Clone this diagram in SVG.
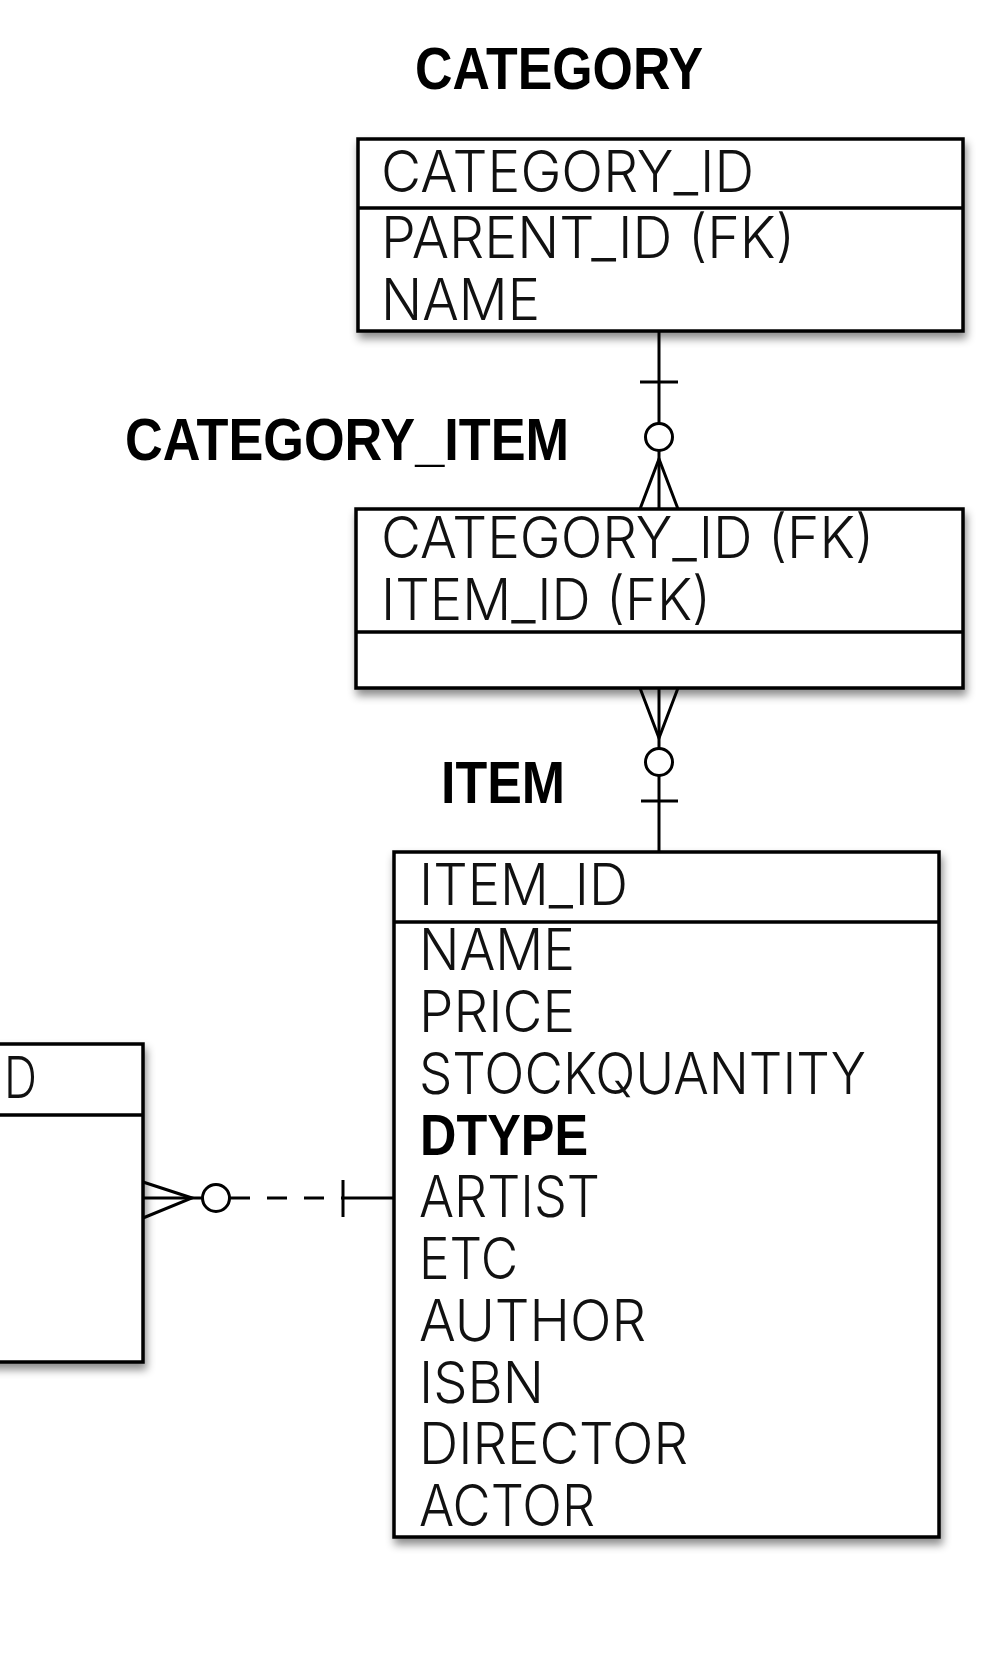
<svg xmlns="http://www.w3.org/2000/svg" width="1000" height="1660" viewBox="0 0 1000 1660">
<defs>
<filter id="sh" x="-10%" y="-10%" width="130%" height="130%">
<feDropShadow dx="2" dy="6" stdDeviation="4" flood-color="#000" flood-opacity="0.45"/>
</filter>
<style>
.box{fill:#fff;stroke:#000;stroke-width:3.5;filter:url(#sh)}
.div{stroke:#000;stroke-width:3.5}
.fld{font-family:"Inter","Liberation Sans",sans-serif;font-weight:300;font-size:57px;fill:#111}
.fldb{font-family:"Liberation Sans",sans-serif;font-weight:bold;font-size:57px;fill:#000}
.ttl{font-family:"Liberation Sans",sans-serif;font-weight:bold;font-size:59px;fill:#000}
.ln{stroke:#000;stroke-width:3;fill:none}
.circ{stroke:#000;stroke-width:3;fill:#fff}
</style>
</defs>
<rect width="1000" height="1660" fill="#fff"/>

<g id="category">
<text class="ttl" x="415" y="89" textLength="288" lengthAdjust="spacingAndGlyphs">CATEGORY</text>
<rect class="box" x="358" y="139" width="605" height="192"/>
<line class="div" x1="358" y1="208" x2="963" y2="208"/>
<text class="fld" x="381" y="192" textLength="373" lengthAdjust="spacingAndGlyphs">CATEGORY_ID</text>
<text class="fld" x="381" y="258" textLength="414" lengthAdjust="spacingAndGlyphs">PARENT_ID (FK)</text>
<text class="fld" x="381" y="320" textLength="159" lengthAdjust="spacingAndGlyphs">NAME</text>
</g>

<g id="category_item">
<text class="ttl" x="125" y="460" textLength="444" lengthAdjust="spacingAndGlyphs">CATEGORY_ITEM</text>
<rect class="box" x="356" y="509" width="607" height="179"/>
<line class="div" x1="356" y1="632" x2="963" y2="632"/>
<text class="fld" x="381" y="558" textLength="493" lengthAdjust="spacingAndGlyphs">CATEGORY_ID (FK)</text>
<text class="fld" x="381" y="620" textLength="330" lengthAdjust="spacingAndGlyphs">ITEM_ID (FK)</text>
</g>

<g id="item">
<text class="ttl" x="441" y="803" textLength="124" lengthAdjust="spacingAndGlyphs">ITEM</text>
<rect class="box" x="394" y="852" width="545" height="685"/>
<line class="div" x1="394" y1="922" x2="939" y2="922"/>
<text class="fld" x="419" y="905" textLength="209" lengthAdjust="spacingAndGlyphs">ITEM_ID</text>
<text class="fld" x="419" y="970" textLength="156" lengthAdjust="spacingAndGlyphs">NAME</text>
<text class="fld" x="419" y="1032" textLength="156" lengthAdjust="spacingAndGlyphs">PRICE</text>
<text class="fld" x="419" y="1094" textLength="447" lengthAdjust="spacingAndGlyphs">STOCKQUANTITY</text>
<text class="fldb" x="420" y="1155" textLength="168" lengthAdjust="spacingAndGlyphs">DTYPE</text>
<text class="fld" x="419" y="1217" textLength="181" lengthAdjust="spacingAndGlyphs">ARTIST</text>
<text class="fld" x="419" y="1279" textLength="99" lengthAdjust="spacingAndGlyphs">ETC</text>
<text class="fld" x="419" y="1341" textLength="227" lengthAdjust="spacingAndGlyphs">AUTHOR</text>
<text class="fld" x="419" y="1403" textLength="125" lengthAdjust="spacingAndGlyphs">ISBN</text>
<text class="fld" x="419" y="1464" textLength="269" lengthAdjust="spacingAndGlyphs">DIRECTOR</text>
<text class="fld" x="419" y="1526" textLength="176" lengthAdjust="spacingAndGlyphs">ACTOR</text>
</g>

<g id="left_entity">
<rect class="box" x="-20" y="1044" width="163" height="318"/>
<line class="div" x1="-20" y1="1115" x2="143" y2="1115"/>
<text class="fld" x="4" y="1098" textLength="33" lengthAdjust="spacingAndGlyphs">D</text>
</g>

<g id="connectors">
<!-- CATEGORY to CATEGORY_ITEM -->
<line class="ln" x1="659" y1="331" x2="659" y2="423"/>
<line class="ln" x1="640" y1="382" x2="678" y2="382"/>
<circle class="circ" cx="659" cy="437" r="13.5"/>
<line class="ln" x1="659" y1="451" x2="659" y2="509"/>
<polyline class="ln" points="640,509 659,459 678,509"/>
<!-- CATEGORY_ITEM to ITEM -->
<polyline class="ln" points="640,688 659,738 678,688"/>
<line class="ln" x1="659" y1="688" x2="659" y2="748"/>
<circle class="circ" cx="659" cy="762" r="13.5"/>
<line class="ln" x1="659" y1="776" x2="659" y2="852"/>
<line class="ln" x1="641" y1="801" x2="678" y2="801"/>
<!-- left entity to ITEM -->
<polyline class="ln" points="143,1182 192,1198 143,1218"/>
<line class="ln" x1="143" y1="1198" x2="202" y2="1198"/>
<circle class="circ" cx="216" cy="1198" r="13.5"/>
<line class="ln" x1="230" y1="1198" x2="343" y2="1198" stroke-dasharray="20 17"/>
<line class="ln" x1="343" y1="1180" x2="343" y2="1217"/>
<line class="ln" x1="343" y1="1198" x2="394" y2="1198"/>
</g>
</svg>
